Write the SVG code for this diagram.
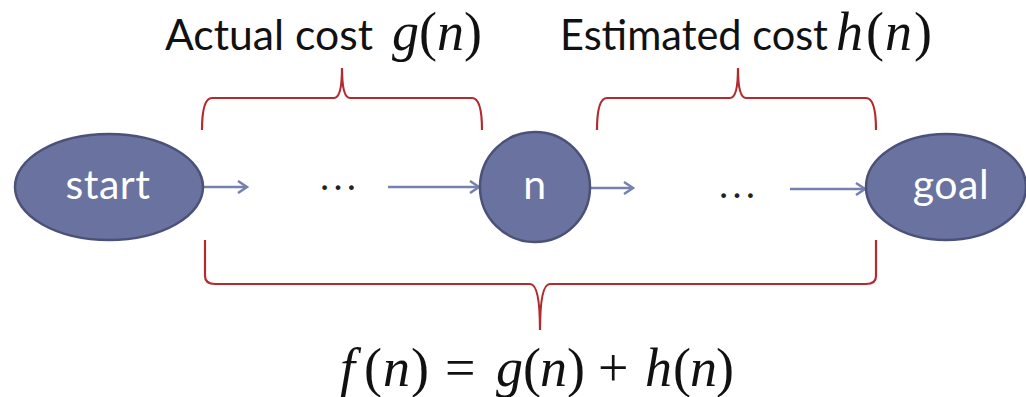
<svg xmlns="http://www.w3.org/2000/svg" width="1026" height="397" viewBox="0 0 1026 397">
<style>
.node{fill:#6a72a0;stroke:#4b5279;stroke-width:2.5}
.lbl{fill:#ffffff;font-family:Lato,"Open Sans",sans-serif;font-size:41px;text-anchor:middle;letter-spacing:0.5px}
.conn{stroke:#7682ad;stroke-width:2.5;fill:none}
.brace{stroke:#b32b2e;stroke-width:2.2;fill:none}
.t{font-family:Lato,"Open Sans",sans-serif;font-size:43px;fill:#111}
.m{font-family:"Liberation Serif","DejaVu Serif",serif;font-style:italic;fill:#111}
.r{font-family:"Liberation Serif","DejaVu Serif",serif;font-style:normal;fill:#111}
.dots{font-family:"Liberation Serif",serif;font-size:40px;fill:#222;text-anchor:middle}
</style>
<defs>
<marker id="ah" markerWidth="14" markerHeight="14" refX="11" refY="7" orient="auto" markerUnits="userSpaceOnUse">
<path d="M2,1 L11,7 L2,13" fill="none" stroke="#7682ad" stroke-width="2.5"/>
</marker>
</defs>
<g id="braces">
<path class="brace" d="M202,130 Q202,98 212,98 L334,98 Q342,98 342,68 Q342,98 350,98 L472,98 Q482,98 482,130"/>
<path class="brace" d="M597,130 Q597,98 607,98 L730,98 Q738,98 738,68 Q738,98 746,98 L866,98 Q876,98 876,130"/>
<path class="brace" d="M205,240 L205,276 Q205,284 215,284 L530,284 Q540,284 540,330 Q540,284 550,284 L866,284 Q876,284 876,276 L876,240"/>
</g>
<g id="connectors">
<line class="conn" x1="203" y1="187" x2="247" y2="187" marker-end="url(#ah)"/>
<line class="conn" x1="388" y1="187" x2="479" y2="187" marker-end="url(#ah)"/>
<line class="conn" x1="590" y1="188" x2="633" y2="188" marker-end="url(#ah)"/>
<line class="conn" x1="790" y1="189" x2="865" y2="189" marker-end="url(#ah)"/>
</g>
<text class="dots" x="338" y="190">…</text>
<text class="dots" x="737" y="198">…</text>
<g id="start">
<ellipse class="node" cx="109" cy="187" rx="94" ry="53"/>
<text class="lbl" x="108" y="199">start</text>
</g>
<g id="n">
<circle class="node" cx="535" cy="187" r="55"/>
<text class="lbl" x="535" y="199">n</text>
</g>
<g id="goal">
<ellipse class="node" cx="946" cy="187" rx="80" ry="53"/>
<text class="lbl" x="951" y="199">goal</text>
</g>
<g id="labels">
<text y="50"><tspan class="t" x="165" textLength="208" lengthAdjust="spacingAndGlyphs">Actual cost</tspan><tspan class="m" font-size="54" x="392">g</tspan><tspan class="r" font-size="54">(</tspan><tspan class="m" font-size="54">n</tspan><tspan class="r" font-size="54">)</tspan></text>
<text y="50"><tspan class="t" x="560" textLength="268" lengthAdjust="spacingAndGlyphs">Estimated cost</tspan><tspan class="m" font-size="54" x="836">h</tspan><tspan class="r" font-size="54" x="866">(</tspan><tspan class="m" font-size="54" x="885">n</tspan><tspan class="r" font-size="54" x="914">)</tspan></text>
<text y="386" font-size="54"><tspan class="m" x="340">f</tspan><tspan class="r" x="364">(</tspan><tspan class="m" x="383">n</tspan><tspan class="r" x="411">)</tspan><tspan class="r" x="445">=</tspan><tspan class="m" x="496">g</tspan><tspan class="r" x="523">(</tspan><tspan class="m" x="540">n</tspan><tspan class="r" x="567">)</tspan><tspan class="r" x="598">+</tspan><tspan class="m" x="645">h</tspan><tspan class="r" x="673">(</tspan><tspan class="m" x="690">n</tspan><tspan class="r" x="716">)</tspan></text>
</g>
</svg>
